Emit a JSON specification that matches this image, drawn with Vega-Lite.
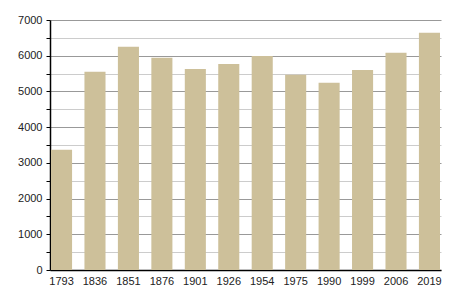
{
  "$schema": "https://vega.github.io/schema/vega-lite/v6.json",
  "width": 391,
  "height": 250,
  "autosize": {"type": "none"},
  "padding": {"left": 50, "top": 20, "right": 9, "bottom": 30},
  "background": "white",
  "config": {"view": {"stroke": null}, "font": "Liberation Sans"},
  "data": {"values": [
    {"year": "1793", "pop": 3370},
    {"year": "1836", "pop": 5550},
    {"year": "1851", "pop": 6250},
    {"year": "1876", "pop": 5940},
    {"year": "1901", "pop": 5630},
    {"year": "1926", "pop": 5770},
    {"year": "1954", "pop": 5990},
    {"year": "1975", "pop": 5470},
    {"year": "1990", "pop": 5240},
    {"year": "1999", "pop": 5600},
    {"year": "2006", "pop": 6080},
    {"year": "2019", "pop": 6640}
  ]},
  "mark": {"type": "bar", "color": "#cdc09a"},
  "encoding": {
    "x": {
      "field": "year", "type": "nominal", "sort": null,
      "scale": {"paddingInner": 0.37, "paddingOuter": 0.03},
      "axis": {
        "title": null, "labelAngle": 0, "ticks": false,
        "domainColor": "#000", "domainWidth": 1.5,
        "labelFontSize": 11, "labelColor": "#222", "labelPadding": 5
      }
    },
    "y": {
      "field": "pop", "type": "quantitative",
      "scale": {"domain": [0, 7000], "nice": false},
      "axis": {
        "title": null,
        "values": [0, 500, 1000, 1500, 2000, 2500, 3000, 3500, 4000, 4500, 5000, 5500, 6000, 6500, 7000],
        "labelExpr": "datum.value % 1000 === 0 ? datum.value : ''",
        "grid": true,
        "gridColor": {"condition": {"test": "datum.value % 1000 === 0", "value": "#999999"}, "value": "#cccccc"},
        "gridWidth": 1,
        "domainColor": "#000", "domainWidth": 1.5,
        "tickColor": "#000", "tickSize": 4,
        "labelFontSize": 11, "labelColor": "#222", "labelPadding": 4
      }
    }
  }
}
